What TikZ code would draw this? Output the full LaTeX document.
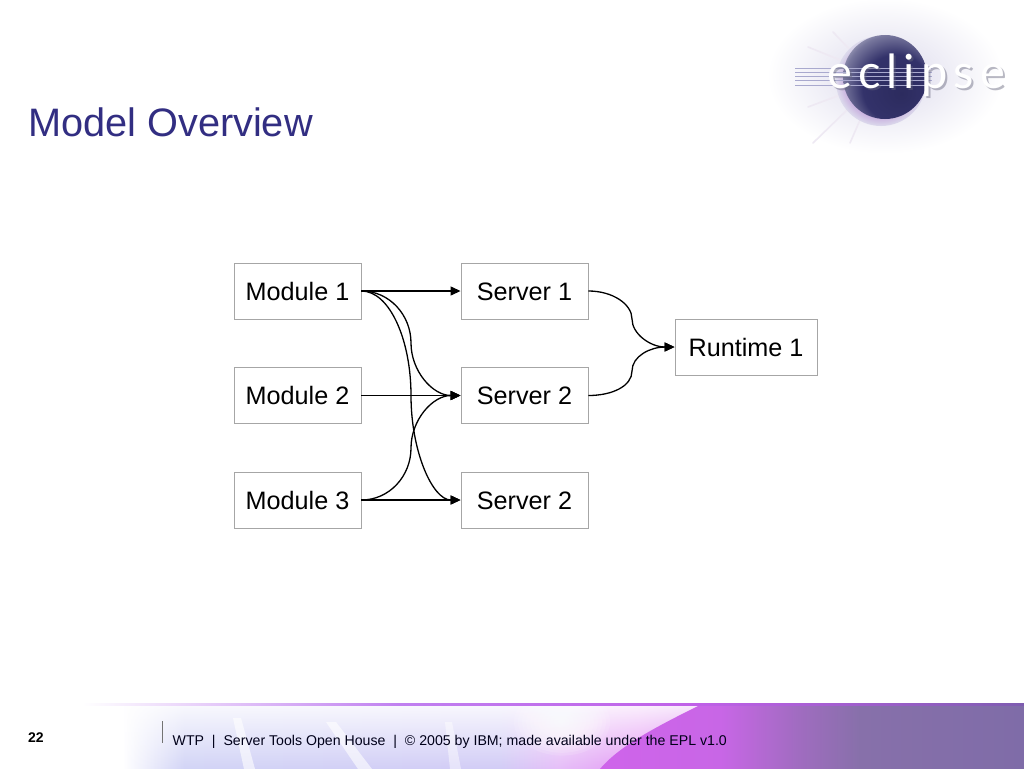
\documentclass[tikz,border=0pt]{standalone}
\usepackage{fontspec}
\usetikzlibrary{arrows.meta,fadings}
\setmainfont{Liberation Sans}
\newfontfamily\logofont{Lato}
\definecolor{titleblue}{HTML}{322E82}
\definecolor{boxgray}{HTML}{A6A6A6}
\definecolor{logoline}{HTML}{A9A9CE}
\definecolor{rayc}{HTML}{EEE9F3}
\definecolor{HTMLa}{HTML}{D2D4F6}
\definecolor{HTMLb}{HTML}{D2CCF6}
\definecolor{HTMLc}{HTML}{E6BEF8}
\definecolor{HTMLd}{HTML}{E498F4}
\definecolor{HTMLe}{HTML}{D070EA}
\pgfdeclarehorizontalshading{bandbase}{100bp}{color(0bp)=(white);color(28.9bp)=(white);color(31bp)=(white);color(34bp)=(HTMLa);color(49.4bp)=(HTMLb);color(52.3bp)=(HTMLc);color(56.25bp)=(HTMLd);color(59.2bp)=(HTMLe);color(100bp)=(HTMLe)}
\definecolor{magA}{HTML}{CE64EA}
\definecolor{magB}{HTML}{C866E6}
\definecolor{magC}{HTML}{A06CC0}
\definecolor{magD}{HTML}{8770AA}
\definecolor{magE}{HTML}{7F6CA8}
\pgfdeclarehorizontalshading{bandmag}{100bp}{color(0bp)=(magA);color(55bp)=(magA);color(60.2bp)=(magB);color(64bp)=(magC);color(67bp)=(magD);color(75bp)=(magE);color(100bp)=(magE)}
\definecolor{ruleA}{HTML}{C080F0}
\definecolor{ruleB}{HTML}{C060E8}
\definecolor{ruleC}{HTML}{7E5CB0}
\pgfdeclarehorizontalshading{bandrule}{100bp}{color(0bp)=(white);color(29bp)=(white);color(44.5bp)=(ruleA);color(59bp)=(ruleB);color(75bp)=(ruleC);color(100bp)=(ruleC)}
\definecolor{ballA}{HTML}{2C2B5E}
\definecolor{ballB}{HTML}{33326A}
\definecolor{ballC}{HTML}{DCDCE8}
\colorlet{ballD}{ballB!60!ballC}
\pgfdeclareradialshading{logoball}{\pgfpoint{10bp}{-10bp}}{color(0bp)=(ballA);color(20bp)=(ballB);color(30bp)=(ballD);color(39bp)=(ballC);color(60bp)=(ballC)}
\definecolor{pinkA}{HTML}{C4A8DC}
\definecolor{glowA}{HTML}{DCDAEC}
\pgfdeclareradialshading{crescent}{\pgfpoint{0bp}{0bp}}{color(0bp)=(pinkA);color(19bp)=(pinkA);color(25bp)=(glowA);color(50bp)=(glowA)}
\tikzset{
  x=1pt,y=-1pt,
  boxnode/.style={draw=boxgray,line width=0.9pt,fill=white,minimum height=56pt,inner sep=0pt,
    font=\fontsize{25.2}{30}\selectfont,text height=18pt,text depth=0pt},
  modnode/.style={boxnode,minimum width=127pt},
  link/.style={draw=black,line width=1.3pt,-{Triangle[length=10pt,width=9pt]}},
  footertext/.style={inner sep=0pt,anchor=base west,font=\fontsize{14.15}{16}\selectfont,text=black!90!blue},
  logoline/.style={draw=logoline,line width=1pt},
  ray/.style={draw=rayc,line width=1.6pt,line cap=round}
}
\begin{document}
\begin{tikzpicture}
\useasboundingbox (0,0) rectangle (1024,768);
\fill[white] (0,0) rectangle (1024,768);
% footer band
\shade[shading=bandbase] (0,705) rectangle (1024,769);
\fill[white,opacity=.85,path fading=south] (80,705) rectangle (720,769);
\fill[white,opacity=.6] (233,718) -- (241,718) -- (255,769) -- (244,769) -- cycle;
\fill[white,opacity=.6] (326,722) -- (336,722) -- (372,769) -- (358,769) -- cycle;
\fill[white,opacity=.45] (445,722) -- (452,722) -- (461,769) -- (450,769) -- cycle;
\fill[white,opacity=.8] (80,705) -- (108,705) -- (90,769) -- (80,769) -- cycle;
\begin{scope}
  \clip (0,705) rectangle (1024,769);
  \foreach \r in {4,8,...,48}
    \fill[white,opacity=.13] (562,722) ellipse ({\r} and {\r*.7});
\end{scope}
\begin{scope}
  \clip (700,705) .. controls (660,725) and (620,745) .. (600,769) -- (1024,769) -- (1024,705) -- cycle;
  \shade[shading=bandmag] (0,705) rectangle (1024,769);
\end{scope}
\shade[shading=bandrule] (0,703.8) rectangle (1024,705.8);
% title
\node[inner sep=0pt,anchor=base west,font=\fontsize{39.7}{48}\selectfont,text=titleblue] (title) at (28,136) {Model Overview};
% logo
\shade[inner color=glowA,outer color=white] (885,76) ellipse (118 and 78);
\foreach \a/\b/\c/\d in {845/62/808/47,852/52/833/32,840/95/808/107,847/110/813/143,860/120/850/143}
  \draw[ray] (\a,\b) -- (\c,\d);
\shade[shading=crescent] (881,81) circle (45);
\shade[shading=logoball] (885,77) circle (42);
\foreach \yy in {68,72,76,80,85}
  \draw[logoline] (795,\yy) -- (932,\yy);
\node[inner sep=0pt,anchor=base west,font=\logofont\fontsize{47}{50}\selectfont\addfontfeature{LetterSpace=13},text=black!40!logoline,opacity=.45] (logoshadow) at (829,90) {eclipse};
\node[inner sep=0pt,anchor=base west,font=\logofont\fontsize{47}{50}\selectfont\addfontfeature{LetterSpace=13},text=white] (logotext) at (827,88.5) {eclipse};
% nodes
\node[modnode] (m1) at (297.5,291) {Module 1};
\node[modnode] (m2) at (297.5,395.5) {Module 2};
\node[modnode] (m3) at (297.5,500) {Module 3};
\node[modnode] (s1) at (524.5,291) {Server 1};
\node[modnode] (s2) at (524.5,395.5) {Server 2};
\node[modnode] (s3) at (524.5,500) {Server 2};
\node[boxnode,minimum width=142pt] (r1) at (746,347) {Runtime 1};
% connectors
\draw[link] (m1.east) -- (s1.west);
\draw[link] (m2.east) -- (s2.west);
\draw[link] (m3.east) -- (s3.west);
\draw[link] (m1.east) .. controls +(28,0) and +(0,-28) .. (411,343) .. controls +(0,28) and +(-28,0) .. (s2.west);
\draw[link] (m3.east) .. controls +(28,0) and +(0,28) .. (411,448) .. controls +(0,-28) and +(-28,0) .. (s2.west);
\draw[link] (m1.east) .. controls +(28,0) and +(0,-56) .. (411,395.5) .. controls +(0,56) and +(-28,0) .. (s3.west);
\draw[link] (s1.east) .. controls +(24,0) and +(0,-15) .. (632,319) .. controls +(0,15) and +(-24,0) .. (r1.west);
\draw[link] (s2.east) .. controls +(24,0) and +(0,15) .. (632,371) .. controls +(0,-15) and +(-24,0) .. (r1.west);
% footer text
\draw[black!55,line width=1pt] (162,721) -- (162,743);
\node[inner sep=0pt,font=\bfseries\fontsize{14}{16}\selectfont] (pagenum) at (36,738) {22};
\node[footertext] (foot) at (172.5,745) {WTP\ \ |\ \ Server Tools Open House\ \ |\ \ © 2005 by IBM; made available under the EPL v1.0};
\end{tikzpicture}
\end{document}
